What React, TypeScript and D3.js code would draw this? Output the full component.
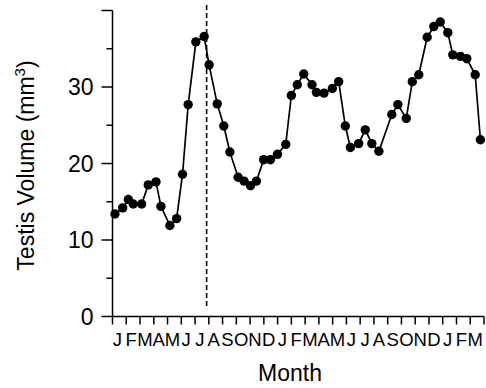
import React from "react";
import * as d3 from "d3";

const monthLabels = ["J","F","M","A","M","J","J","A","S","O","N","D","J","F","M","A","M","J","J","A","S","O","N","D","J","F","M"];
const sampleMonth = [0.18,0.74,1.15,1.51,2.12,2.6,3.16,3.52,4.17,4.66,5.09,5.5,6.06,6.66,7.02,7.61,8.09,8.53,9.13,9.56,10.03,10.46,10.99,11.48,11.99,12.59,13.0,13.43,13.9,14.5,14.82,15.37,15.98,16.44,16.92,17.29,17.89,18.37,18.85,19.36,20.3,20.74,21.35,21.79,22.26,22.87,23.35,23.82,24.37,24.73,25.29,25.75,26.36,26.74];
const testisVolume = [13.4,14.2,15.3,14.7,14.7,17.2,17.6,14.4,11.9,12.8,18.6,27.7,35.9,36.6,32.9,27.8,24.9,21.5,18.2,17.7,17.1,17.7,20.5,20.5,21.2,22.5,28.9,30.3,31.7,30.3,29.3,29.2,29.8,30.7,24.9,22.1,22.6,24.4,22.6,21.6,26.4,27.7,25.9,30.7,31.6,36.5,37.9,38.5,37.1,34.2,34.0,33.7,31.6,23.1];
const markerMonth = [6.84];
const yMajorTicks = [0,10,20,30,40];
const yTickLabels = ["0","10","20","30",""];
const yMinorTicks = [5,15,25,35];

export default function App() {
  const W = 486, H = 388;
  const x = d3.scaleLinear().domain([0, monthLabels.length]).range([112.5, 484]);
  const y = d3.scaleLinear().domain([0, 40]).range([316.5, 10.5]);
  const pts = sampleMonth.map((m, i) => [m, testisVolume[i]] as [number, number]);
  const line = d3.line<[number, number]>().x(d => x(d[0])).y(d => y(d[1]));
  const font = "Liberation Sans, Arial, Helvetica, sans-serif";
  const monthTicks = d3.range(monthLabels.length + 1);
  return (
    <svg width={W} height={H} style={{ position: "absolute", left: 0, top: 0, background: "#fff" }} fontFamily={font}>
      {/* y axis */}
      <line x1={x(0)} x2={x(0)} y1={y(40)} y2={y(0)} stroke="#000" strokeWidth={1.5} />
      {yMajorTicks.map((t, i) => (
        <g key={"ym" + t}>
          <line x1={x(0) - 11} x2={x(0)} y1={y(t)} y2={y(t)} stroke="#000" strokeWidth={1.5} />
          <text x={x(0) - 19} y={y(t)} dy="0.36em" textAnchor="end" fontSize={23}>{yTickLabels[i]}</text>
        </g>
      ))}
      {yMinorTicks.map(t => (
        <line key={"yn" + t} x1={x(0) - 6} x2={x(0)} y1={y(t)} y2={y(t)} stroke="#000" strokeWidth={1.5} />
      ))}
      {/* x axis */}
      <line x1={x(0)} x2={x(monthLabels.length)} y1={y(0)} y2={y(0)} stroke="#000" strokeWidth={1.5} />
      {monthTicks.map(m => (
        <line key={"xt" + m} x1={x(m)} x2={x(m)} y1={y(0)} y2={y(0) + 8} stroke="#000" strokeWidth={1.5} />
      ))}
      {monthLabels.map((l, i) => (
        <text key={"xl" + i} x={x(i + 0.5) - 2} y={346} textAnchor="middle" fontSize={18.5}>{l}</text>
      ))}
      {/* titles */}
      <text x={290} y={381} textAnchor="middle" fontSize={23}>Month</text>
      <text transform={`translate(34,${(y(0) + y(40)) / 2 + 2}) rotate(-90)`} textAnchor="middle" fontSize={23}>
        Testis Volume (mm<tspan dy="-9" fontSize={15}>3</tspan><tspan dy="9">)</tspan>
      </text>
      {/* dashed marker */}
      {markerMonth.map((m, i) => (
        <line key={"dm" + i} x1={x(m)} x2={x(m)} y1={5} y2={308} stroke="#000" strokeWidth={1.6} strokeDasharray="5,3" />
      ))}
      {/* data */}
      <path d={line(pts) || ""} fill="none" stroke="#000" strokeWidth={1.7} />
      {pts.map((p, i) => (
        <circle key={"c" + i} cx={x(p[0])} cy={y(p[1])} r={4.7} fill="#000" />
      ))}
    </svg>
  );
}
